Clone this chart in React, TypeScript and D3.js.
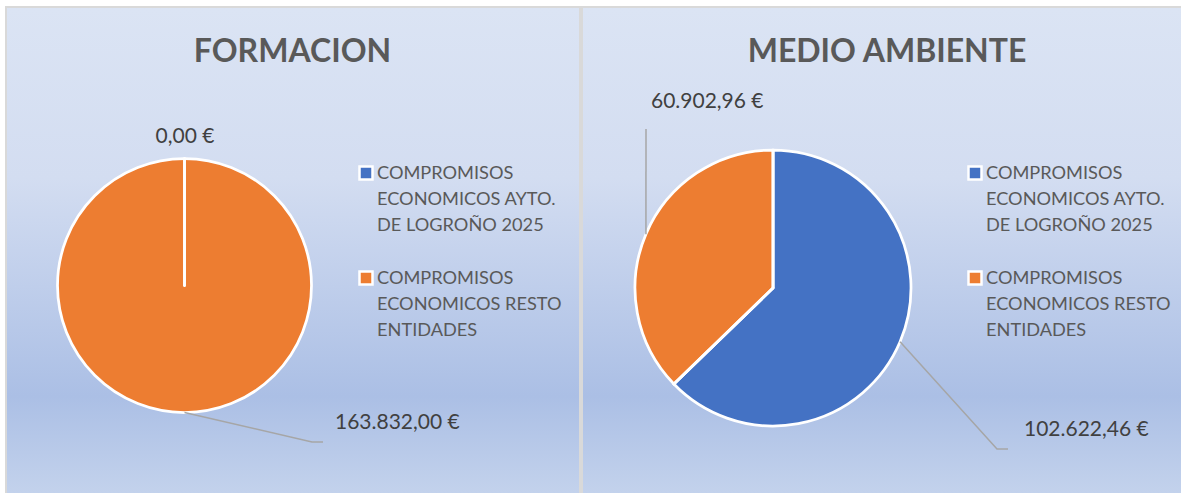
import React from "react";
import * as d3 from "d3";

// ---- data ----
const categories = [
  "COMPROMISOS ECONOMICOS AYTO. DE LOGROÑO 2025",
  "COMPROMISOS ECONOMICOS RESTO ENTIDADES",
];
const legendLines = [
  ["COMPROMISOS", "ECONOMICOS AYTO.", "DE LOGROÑO 2025"],
  ["COMPROMISOS", "ECONOMICOS RESTO", "ENTIDADES"],
];
const chartTitles = ["FORMACION", "MEDIO AMBIENTE"];
const formacionValues = [0, 163832.0];
const medioAmbienteValues = [102622.46, 60902.96];
const colors = ["#4472C4", "#ED7D31"];

const W = 1181;
const H = 493;
const FONT = "Lato, 'Open Sans', sans-serif";

const fmt = (v: number) => {
  const [i, d] = v.toFixed(2).split(".");
  const withDots = i.replace(/\B(?=(\d{3})+(?!\d))/g, ".");
  return `${withDots},${d} €`;
};

type LabelLayout = {
  tx: number;
  ty: number;
  anchor: "start" | "middle" | "end";
  leader?: [number, number][];
};

type PanelProps = {
  x: number;
  w: number;
  titleCx: number;
  title: string;
  values: number[];
  cx: number;
  cy: number;
  r: number;
  labels: LabelLayout[];
  legendX: number;
  id: string;
};

function Panel(p: PanelProps) {
  const pie = d3
    .pie<number>()
    .sort(null)
    .value((d) => d)
    .startAngle(0)
    .endAngle(2 * Math.PI);
  const arcs = pie(p.values);
  const arc = d3.arc<d3.PieArcDatum<number>>().innerRadius(0).outerRadius(p.r);
  const legendY = [173, 278];
  const lineGap = 26;

  return (
    <g>
      <defs>
        <linearGradient id={`bg-${p.id}`} x1="0" y1="0" x2="0" y2="1">
          <stop offset="0" stopColor="#dbe4f4" />
          <stop offset="0.35" stopColor="#d3ddf1" />
          <stop offset="0.8" stopColor="#abbfe5" />
          <stop offset="1" stopColor="#c3d2ec" />
        </linearGradient>
      </defs>
      <rect x={p.x} y={8} width={p.w} height={H - 8} fill={`url(#bg-${p.id})`} />
      <text
        x={p.titleCx}
        y={62}
        textAnchor="middle"
        fontFamily={FONT}
        fontWeight="bold"
        fontSize={32}
        fill="#595959"
      >
        {p.title}
      </text>
      <g transform={`translate(${p.cx},${p.cy})`}>
        {arcs.map((a, i) =>
          a.value > 0 ? (
            <path
              key={i}
              d={arc(a) || ""}
              fill={colors[i]}
              stroke="#fff"
              strokeWidth={2.75}
              strokeLinejoin="round"
            />
          ) : null
        )}
        {arcs.map((a, i) => (
          <line
            key={"r" + i}
            x1={0}
            y1={0}
            x2={p.r * Math.sin(a.startAngle)}
            y2={-p.r * Math.cos(a.startAngle)}
            stroke="#fff"
            strokeWidth={2.75}
            strokeLinecap="round"
          />
        ))}
      </g>
      {arcs.map((a, i) => {
        const L = p.labels[i];
        const mid = (a.startAngle + a.endAngle) / 2;
        const sx = p.cx + p.r * Math.sin(mid);
        const sy = p.cy - p.r * Math.cos(mid);
        const pts: [number, number][] = L.leader ? [[sx, sy], ...L.leader] : [];
        return (
          <g key={"l" + i}>
            {pts.length > 0 && (
              <path
                d={d3.line()(pts) || ""}
                fill="none"
                stroke="#a6a6a6"
                strokeWidth={1.5}
              />
            )}
            <text
              x={L.tx}
              y={L.ty}
              textAnchor={L.anchor}
              fontFamily={FONT}
              fontSize={21}
              fill="#404040"
            >
              {fmt(a.value)}
            </text>
          </g>
        );
      })}
      {categories.map((c, i) => (
        <g key={"lg" + i}>
          <rect
            x={p.legendX - 6.5}
            y={legendY[i] - 6.5}
            width={13}
            height={13}
            fill={colors[i]}
            stroke="#fff"
            strokeWidth={2.5}
          />
          {legendLines[i].map((t, j) => (
            <text
              key={j}
              x={p.legendX + 11}
              y={legendY[i] + 6 + j * lineGap}
              fontFamily={FONT}
              fontSize={18.2}
              fill="#595959"
            >
              {t}
            </text>
          ))}
        </g>
      ))}
    </g>
  );
}

export default function App() {
  return (
    <svg
      width={W}
      height={H}
      style={{ position: "absolute", left: 0, top: 0, display: "block" }}
    >
      <rect x={0} y={0} width={W} height={H} fill="#ffffff" />
      <rect x={5} y={6} width={W - 5} height={H - 6} fill="#d9d9d9" />
      <Panel
        id="a"
        x={7}
        w={572}
        titleCx={292.5}
        title={chartTitles[0]}
        values={formacionValues}
        cx={184.5}
        cy={285.5}
        r={127}
        legendX={366}
        labels={[
          { tx: 185, ty: 143, anchor: "middle" },
          { tx: 335, ty: 429, anchor: "start", leader: [[312, 442], [323, 442]] },
        ]}
      />
      <Panel
        id="b"
        x={583}
        w={598}
        titleCx={887}
        title={chartTitles[1]}
        values={medioAmbienteValues}
        cx={773}
        cy={288}
        r={138}
        legendX={975}
        labels={[
          { tx: 1024, ty: 436, anchor: "start", leader: [[997, 449], [1008, 449]] },
          { tx: 651, ty: 108, anchor: "start", leader: [[646, 129]] },
        ]}
      />
    </svg>
  );
}
